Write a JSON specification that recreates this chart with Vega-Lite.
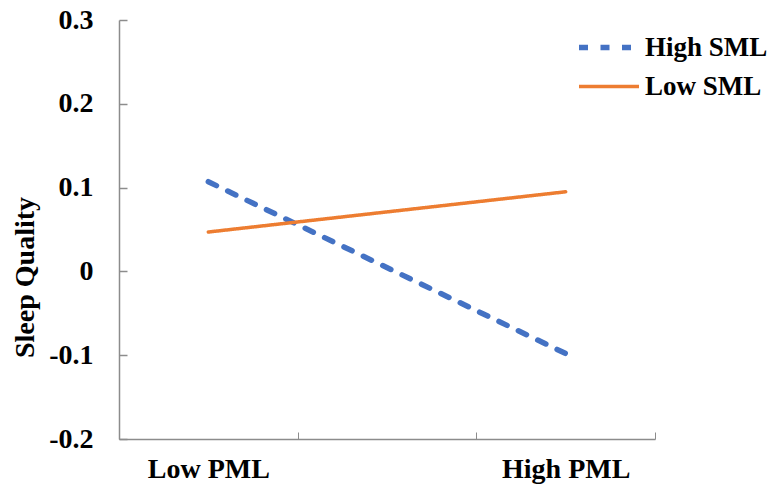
{
  "$schema": "https://vega.github.io/schema/vega-lite/v6.json",
  "width": 536,
  "height": 419,
  "autosize": {"type": "none"},
  "padding": {"left": 119, "top": 20, "right": 117, "bottom": 50},
  "background": "white",
  "config": {
    "view": {"stroke": null},
    "font": "Liberation Serif"
  },
  "data": {
    "values": [
      {"pml": 0.5, "quality": 0.107, "series": "High SML"},
      {"pml": 2.5, "quality": -0.098, "series": "High SML"},
      {"pml": 0.5, "quality": 0.047, "series": "Low SML"},
      {"pml": 2.5, "quality": 0.095, "series": "Low SML"}
    ]
  },
  "mark": {"type": "line", "strokeCap": "round"},
  "encoding": {
    "x": {
      "field": "pml",
      "type": "quantitative",
      "scale": {"domain": [0, 3], "nice": false, "zero": false},
      "axis": {
        "values": [0, 0.5, 1, 2, 2.5, 3],
        "labelExpr": "datum.value == 0.5 ? 'Low PML' : datum.value == 2.5 ? 'High PML' : ''",
        "title": null,
        "grid": false,
        "domainColor": "#8c8c8c",
        "domainWidth": 1.5,
        "tickColor": "#8c8c8c",
        "tickWidth": 1,
        "tickSize": -7,
        "tickOpacity": {"condition": {"test": "datum.value == 0.5 || datum.value == 2.5", "value": 0}, "value": 1},
        "labelPadding": 23,
        "labelFont": "Liberation Serif",
        "labelFontSize": 28,
        "labelFontWeight": "bold",
        "labelColor": "black",
        "labelFlush": false,
        "labelOverlap": false
      }
    },
    "y": {
      "field": "quality",
      "type": "quantitative",
      "scale": {"domain": [-0.2, 0.3], "nice": false, "zero": false},
      "axis": {
        "values": [-0.2, -0.1, 0, 0.1, 0.2, 0.3],
        "labelExpr": "datum.value == 0 ? '0' : replace(format(datum.value, '.1f'), '\u2212', '-')",
        "title": "Sleep Quality",
        "titleFont": "Liberation Serif",
        "titleFontSize": 28,
        "titleFontWeight": "bold",
        "titleColor": "black",
        "titleAngle": -90,
        "titleBaseline": "middle",
        "titleAlign": "center",
        "titleX": -94,
        "titleY": 257,
        "grid": false,
        "domainColor": "#8c8c8c",
        "domainWidth": 1.5,
        "tickColor": "#8c8c8c",
        "tickWidth": 1.5,
        "tickSize": -8,
        "labelPadding": 34,
        "labelFont": "Liberation Serif",
        "labelFontSize": 28,
        "labelFontWeight": "bold",
        "labelColor": "black",
        "labelFlush": false,
        "labelOverlap": false
      }
    },
    "color": {
      "field": "series",
      "type": "nominal",
      "scale": {"domain": ["High SML", "Low SML"], "range": ["#4472C4", "#ED7D31"]},
      "legend": {
        "orient": "none",
        "legendX": 457,
        "legendY": 8,
        "title": null,
        "padding": 0,
        "symbolType": "stroke",
        "symbolSize": 3600,
        "symbolStrokeWidth": 4.5,
        "clipHeight": 39,
        "labelFont": "Liberation Serif",
        "labelFontSize": 27,
        "labelFontWeight": "bold",
        "labelColor": "black",
        "labelOffset": 3,
        "rowPadding": 0,
        "labelLimit": 300
      }
    },
    "strokeDash": {
      "field": "series",
      "type": "nominal",
      "scale": {"domain": ["High SML", "Low SML"], "range": [[9, 12.5], [1, 0]]},
      "legend": null
    },
    "strokeWidth": {
      "field": "series",
      "type": "nominal",
      "scale": {"domain": ["High SML", "Low SML"], "range": [5.5, 3.5]},
      "legend": null
    }
  }
}
